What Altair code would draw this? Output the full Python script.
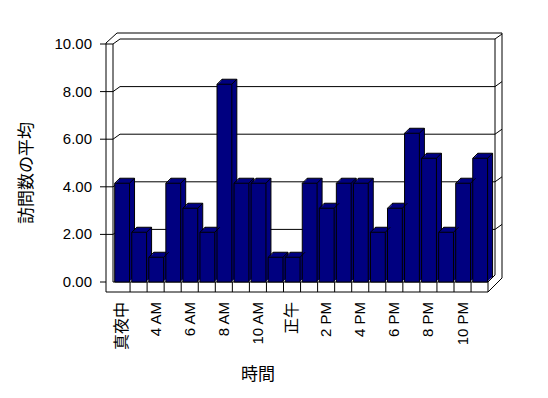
import altair as alt
import pandas as pd

# ---- data ----
hours = ["真夜中", "3 AM", "4 AM", "5 AM", "6 AM", "7 AM", "8 AM", "9 AM",
         "10 AM", "11 AM", "正午", "1 PM", "2 PM", "3 PM", "4 PM", "5 PM",
         "6 PM", "7 PM", "8 PM", "9 PM", "10 PM", "11 PM"]
visits = [4.15, 2.09, 1.04, 4.15, 3.10, 2.09, 8.31, 4.15, 4.15, 1.04, 1.04,
          4.15, 3.10, 4.15, 4.15, 2.09, 3.10, 6.25, 5.20, 2.09, 4.15, 5.20]
tick_values = [0, 2, 4, 6, 8, 10]
wall_values = [2, 4, 6, 8, 10]
x_title = "時間"
y_title = "訪問数の平均"

NAVY = "#000080"
JP = "Noto Sans CJK JP"
LAT = "Liberation Sans"

W, H = 396, 259
CELL = 17.05      # px per hour cell
UNIT = 23.8       # px per value unit
X0 = 7            # px of first cell start
Y0 = 249          # px of value 0

xs = alt.Scale(domain=[-X0 / CELL, (W - X0) / CELL], nice=False, zero=False)
ys = alt.Scale(domain=[(Y0 - H) / UNIT, Y0 / UNIT], nice=False, zero=False)

df = pd.DataFrame({"idx": list(range(len(hours))), "hour": hours, "visits": visits})
base = alt.Chart(df).transform_calculate(
    x0="datum.idx + 0.1", x1="datum.idx + 0.97", cx="datum.idx + 0.5"
)
grid_df = pd.DataFrame({"v": wall_values})
tick_df = pd.DataFrame({"v": tick_values})
one = pd.DataFrame({"a": [0]})

layers = []

# ---- frame (walls / floor), static decoration ----
def seg(x1, y1, x2, y2):
    return alt.Chart(one).mark_rule(color="black", strokeWidth=1).encode(
        x=alt.value(x1), y=alt.value(y1), x2=alt.value(x2), y2=alt.value(y2)
    )

layers += [
    seg(0, 10, 0, 259),      # outer left edge
    seg(7, 11, 7, 249),      # inner left edge
    seg(0, 10, 11, 0),       # top-left diagonal
    seg(11, 0, 396, 0),      # top outer line
    seg(396, 0, 396, 245),   # right outer edge
    seg(389, 6, 389, 242),   # right inner edge
    seg(7, 249, 382, 249),   # floor front top
    seg(0, 259, 382, 259),   # floor front bottom
    seg(382, 249, 382, 259), # floor right end
    seg(382, 259, 396, 245), # floor right diagonal
    seg(382, 249, 389, 242), # floor right inner diagonal
]

# back-wall gridlines
gb = alt.Chart(grid_df)
Yv = alt.Y("v:Q", scale=ys, axis=None)
layers.append(gb.mark_rule(color="black", yOffset=-5).encode(
    x=alt.value(14), x2=alt.value(389), y=Yv))
layers.append(gb.mark_rule(color="black").encode(
    x=alt.value(0), x2=alt.value(7), y=Yv))
layers.append(gb.mark_rule(color="black", y2Offset=-5).encode(
    x=alt.value(7), x2=alt.value(14), y=Yv, y2="v:Q"))
layers.append(gb.mark_rule(color="black", yOffset=-5, y2Offset=-10).encode(
    x=alt.value(389), x2=alt.value(396), y=Yv, y2="v:Q"))

# y axis ticks and labels on the front-left edge
tb = alt.Chart(tick_df).transform_calculate(label="format(datum.v, '.2f')")
layers.append(tb.mark_rule(color="black").encode(
    x=alt.value(-6), x2=alt.value(0), y=Yv))
layers.append(tb.mark_text(align="right", baseline="middle", font=LAT,
                           fontSize=15, color="black").encode(
    x=alt.value(-14), y=Yv, text="label:N"))

# floor cell separators
layers.append(base.transform_filter("datum.idx >= 1").mark_rule(color="black").encode(
    x=alt.X("idx:Q", scale=xs, axis=None), y=alt.value(249), y2=alt.value(259)))

# ---- 3D bars ----
Xb = alt.X("x0:Q", scale=xs, axis=None)
Yb = alt.Y("visits:Q", scale=ys, axis=None)
for d in [5, 4, 3, 2, 1]:
    kw = dict(fill=NAVY, xOffset=d, x2Offset=d, yOffset=-d, y2Offset=-d)
    if d == 5:
        kw.update(stroke="black", strokeWidth=1)
    else:
        kw.update(strokeWidth=0)
    layers.append(base.mark_rect(**kw).encode(x=Xb, x2="x1:Q", y=Yb, y2=alt.datum(0)))

layers.append(base.mark_rect(fill=NAVY, stroke="black", strokeWidth=1).encode(
    x=Xb, x2="x1:Q", y=Yb, y2=alt.datum(0)))

# top diagonal edges of each bar
layers.append(base.mark_rule(color="black", x2Offset=5, y2Offset=-5).encode(
    x=Xb, x2="x0:Q", y=Yb, y2="visits:Q"))
layers.append(base.mark_rule(color="black", x2Offset=5, y2Offset=-5).encode(
    x=alt.X("x1:Q", scale=xs, axis=None), x2="x1:Q", y=Yb, y2="visits:Q"))

# ---- hour labels (every other hour) ----
lab = base.transform_filter("datum.idx % 2 == 0")
Xc = alt.X("cx:Q", scale=xs, axis=None)
layers.append(lab.transform_filter("indexof(datum.hour, 'M') >= 0").mark_text(
    angle=270, align="right", baseline="middle", font=LAT, fontSize=15, color="black"
).encode(x=Xc, y=alt.value(269), text="hour:N"))
layers.append(lab.transform_filter("indexof(datum.hour, 'M') < 0").mark_text(
    angle=270, align="right", baseline="middle", font=JP, fontSize=16, color="black"
).encode(x=Xc, y=alt.value(269), text="hour:N"))

# ---- axis titles ----
layers.append(alt.Chart(one).mark_text(font=JP, fontSize=17, color="black",
                                       align="center", baseline="middle").encode(
    x=alt.value(152), y=alt.value(342), text=alt.value(x_title)))
layers.append(alt.Chart(one).mark_text(font=JP, fontSize=17, color="black", angle=270,
                                       align="center", baseline="middle").encode(
    x=alt.value(-79), y=alt.value(140), text=alt.value(y_title)))

chart = alt.layer(*layers).properties(
    width=W, height=H,
    autosize=alt.AutoSizeParams(type="none"),
    padding={"left": 98, "top": 25, "right": 10, "bottom": 100},
    background="white",
).configure_view(stroke=None)

chart.save("out.html", embed_options={"renderer": "svg", "actions": False})
